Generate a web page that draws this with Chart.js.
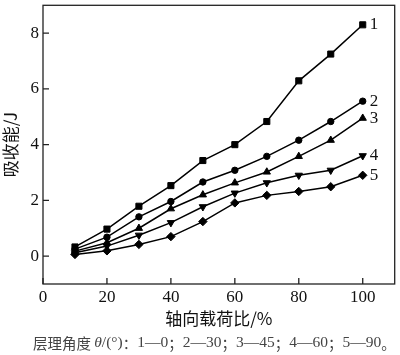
<!DOCTYPE html>
<html><head><meta charset="utf-8">
<script src="https://cdn.jsdelivr.net/npm/chart.js@4"></script>
<style>html,body{margin:0;padding:0;background:#fff}</style>
</head><body>
<canvas id="c" width="400" height="355" style="width:400px;height:355px;display:block"></canvas>
<script>
const loadRatio = [10,20,30,40,50,60,70,80,90,100];
const s1 = [0.33,0.97,1.79,2.53,3.43,4.00,4.83,6.29,7.25,8.30];
const s2 = [0.25,0.68,1.41,1.96,2.66,3.08,3.58,4.16,4.83,5.56];
const s3 = [0.18,0.48,1.00,1.70,2.20,2.63,3.02,3.58,4.16,4.95];
const s4 = [0.12,0.36,0.75,1.20,1.77,2.26,2.63,2.90,3.08,3.60];
const s5 = [0.06,0.19,0.42,0.70,1.24,1.91,2.18,2.32,2.49,2.90];
const seriesLabels = ['1','2','3','4','5'];
const xTicks = [0,20,40,60,80,100];
const yTicks = [0,2,4,6,8];
const xTitle = '轴向载荷比/%';
const yTitle = '吸收能/J';
const footParts = [
  ['层理角度 ','cjk'],['θ','it'],['/(°)','serif'],['：','cjk'],['1—0','serif'],['；','cjk'],
  ['2—30','serif'],['；','cjk'],['3—45','serif'],['；','cjk'],['4—60','serif'],['；','cjk'],
  ['5—90','serif'],['。','cjk']
];

const SERIF = '"Liberation Serif", "DejaVu Serif", serif';
const CJK = '"Noto Sans CJK SC", sans-serif';

const mk = (data, style, r, rot) => ({
  data: data.map((v,i)=>({x: loadRatio[i], y: v})),
  borderColor:'#000', backgroundColor:'#000', borderWidth:1.5,
  pointStyle: style, pointRadius: r, pointRotation: rot||0,
  pointBackgroundColor:'#000', pointBorderColor:'#000', pointBorderWidth:1,
  tension:0, fill:false
});

const zeroPad = s => { s.paddingTop = 0; s.paddingBottom = 0; s.paddingLeft = 0; s.paddingRight = 0; };

const framePlugin = {
  id:'frame',
  afterDraw(chart){
    const {ctx, chartArea:ca, scales:{x, y}} = chart;
    ctx.save();
    ctx.strokeStyle = '#222'; ctx.lineWidth = 1.3;
    ctx.strokeRect(ca.left, ca.top, ca.right-ca.left, ca.bottom-ca.top);
    ctx.beginPath();
    xTicks.forEach(v=>{ const px = x.getPixelForValue(v); ctx.moveTo(px, ca.bottom); ctx.lineTo(px, ca.bottom-6); });
    yTicks.forEach(v=>{ const py = y.getPixelForValue(v); ctx.moveTo(ca.left, py); ctx.lineTo(ca.left+6, py); });
    ctx.stroke();
    // footnote
    ctx.fillStyle = '#444'; ctx.textBaseline = 'middle'; ctx.textAlign = 'left';
    const fonts = {cjk: '14.5px '+CJK, serif: '15.5px '+SERIF, it: 'italic 15.5px '+SERIF};
    let fx = 33; const fy = 343;
    footParts.forEach(([t,f])=>{ ctx.font = fonts[f]; ctx.fillText(t, fx, fy); fx += ctx.measureText(t).width; });
    ctx.restore();
  },
  afterDatasetsDraw(chart){
    const ctx = chart.ctx;
    ctx.save();
    ctx.fillStyle = '#111'; ctx.font = '17px '+SERIF; ctx.textBaseline='middle'; ctx.textAlign='left';
    chart.data.datasets.forEach((ds,i)=>{
      const pts = chart.getDatasetMeta(i).data; const p = pts[pts.length-1];
      ctx.fillText(seriesLabels[i], p.x+7, p.y);
    });
    ctx.restore();
  }
};

new Chart(document.getElementById('c'), {
  type:'line',
  data:{ datasets:[
    mk(s1,'rect',4.3), mk(s2,'circle',3.2), mk(s3,'triangle',4.2), mk(s4,'triangle',4.2,180), mk(s5,'rectRot',4.2)
  ]},
  options:{
    responsive:false, animation:false, devicePixelRatio:1,
    layout:{padding:{top:1,right:1,left:0,bottom:0}},
    plugins:{legend:{display:false}, tooltip:{enabled:false}},
    scales:{
      x:{type:'linear', min:0, max:110,
        afterBuildTicks:s=>{s.ticks = xTicks.map(v=>({value:v}));},
        afterFit:s=>{s.height = 71; zeroPad(s);},
        grid:{display:false, drawTicks:false}, border:{display:false},
        ticks:{padding:3, autoSkip:false, maxRotation:0, color:'#111', font:{family:SERIF, size:17}},
        title:{display:true, text:xTitle, color:'#111', font:{family:CJK, size:17}, padding:{top:0,bottom:26}}
      },
      y:{type:'linear', min:-1, max:9,
        afterBuildTicks:s=>{s.ticks = yTicks.map(v=>({value:v}));},
        afterFit:s=>{s.width = 43; zeroPad(s);},
        grid:{display:false, drawTicks:false}, border:{display:false},
        ticks:{padding:4, color:'#111', font:{family:SERIF, size:17}},
        title:{display:true, text:yTitle, color:'#111', font:{family:CJK, size:17}, padding:{top:0,bottom:0}}
      }
    }
  },
  plugins:[framePlugin]
});
</script>
</body></html>
